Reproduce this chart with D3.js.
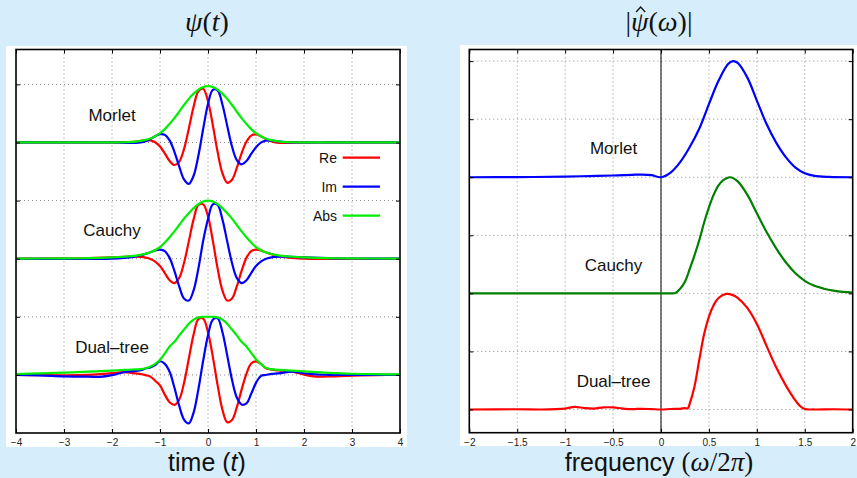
<!DOCTYPE html>
<html>
<head>
<meta charset="utf-8">
<script src="https://cdn.jsdelivr.net/npm/d3@7"></script>
<style>
  html, body { margin: 0; padding: 0; background: #d6eefc; }
  svg { display: block; }
</style>
</head>
<body>
<svg id="chart" width="857" height="478"></svg>
<script>
// ---------------- data: time domain ψ(t) ----------------
const timeT = [-4,-3,-2.5,-2,-1.75,-1.6,-1.5,-1.4,-1.3,-1.2,-1.1,-1,-0.9,-0.8,-0.7,-0.6,-0.5,-0.4,-0.3,-0.2,-0.1,0,
               0.1,0.2,0.3,0.4,0.5,0.6,0.7,0.8,0.9,1,1.1,1.2,1.3,1.4,1.5,1.6,1.75,2,2.5,3,4];

const morletRe  = [0,0,0,0,0.002,0.005,0.014,0.027,0.038,0.036,0.004,-0.071,-0.189,-0.318,-0.388,-0.333,-0.115,0.236,0.615,0.882,0.925,0.710,
                   0.301,-0.162,-0.528,-0.693,-0.641,-0.436,-0.187,0.012,0.118,0.138,0.108,0.063,0.025,0.003,-0.006,-0.007,-0.004,-0.001,0,0,0];
const morletIm  = [0,0,0,0,-0.004,-0.007,-0.007,0.001,0.022,0.060,0.108,0.143,0.131,0.035,-0.160,-0.412,-0.635,-0.712,-0.573,-0.225,0.236,0.662,
                   0.906,0.895,0.654,0.287,-0.070,-0.302,-0.376,-0.320,-0.198,-0.081,-0.004,0.032,0.036,0.027,0.015,0.006,0.002,0,0,0,0];
const morletAbs = [0,0,0,0.001,0.004,0.009,0.016,0.027,0.044,0.070,0.108,0.160,0.230,0.320,0.420,0.530,0.645,0.750,0.840,0.910,0.955,0.970,
                   0.955,0.910,0.840,0.750,0.645,0.530,0.420,0.320,0.230,0.160,0.108,0.070,0.044,0.027,0.016,0.009,0.004,0.001,0,0,0];

const cauchyRe  = [0.001,0.003,0.009,0.022,0.031,0.034,0.035,0.030,0.018,-0.004,-0.049,-0.126,-0.247,-0.370,-0.421,-0.331,-0.075,0.298,0.677,0.925,0.935,0.732,
                   0.310,-0.167,-0.546,-0.721,-0.686,-0.477,-0.210,0.014,0.131,0.155,0.142,0.110,0.083,0.059,0.040,0.026,0.012,-0.001,-0.005,-0.004,-0.001];
const cauchyIm  = [-0.001,-0.004,-0.005,-0.001,0.012,0.026,0.040,0.059,0.083,0.110,0.142,0.155,0.131,0.014,-0.210,-0.477,-0.686,-0.721,-0.546,-0.167,0.310,0.682,
                   0.935,0.925,0.677,0.298,-0.075,-0.331,-0.421,-0.370,-0.247,-0.126,-0.049,-0.004,0.018,0.030,0.035,0.034,0.031,0.022,0.009,0.003,0.001];
const cauchyAbs = [0.002,0.005,0.010,0.022,0.033,0.043,0.053,0.066,0.085,0.110,0.150,0.200,0.280,0.370,0.470,0.580,0.690,0.780,0.870,0.940,0.985,1.000,
                   0.985,0.940,0.870,0.780,0.690,0.580,0.470,0.370,0.280,0.200,0.150,0.110,0.085,0.066,0.053,0.043,0.033,0.022,0.010,0.005,0.002];

const dualT   = [-4,-3.5,-3,-2.5,-2.25,-2,-1.75,-1.5,-1.4,-1.3,-1.2,-1.1,-1,-0.9,-0.8,-0.7,-0.6,-0.5,-0.4,-0.3,-0.2,-0.1,0,
                 0.1,0.2,0.3,0.4,0.5,0.6,0.7,0.8,0.9,1,1.1,1.2,1.3,1.4,1.5,1.75,2,2.25,2.5,3,3.5,4];
const dualRe  = [0,-0.004,-0.006,0,0.012,0.030,0.046,0.025,0.015,-0.005,-0.030,-0.100,-0.180,-0.340,-0.470,-0.515,-0.427,-0.139,0.277,0.695,0.959,0.969,0.732,
                 0.315,-0.176,-0.597,-0.813,-0.776,-0.559,-0.254,0.019,0.195,0.232,0.190,0.120,0.095,0.082,0.074,0.055,0.005,-0.030,-0.028,-0.012,-0.004,0];
const dualIm  = [0,-0.008,-0.025,-0.030,-0.034,-0.005,0.046,0.070,0.080,0.110,0.130,0.170,0.235,0.190,0.053,-0.218,-0.529,-0.768,-0.835,-0.648,-0.245,0.247,0.682,
                 0.949,0.974,0.739,0.336,-0.084,-0.388,-0.510,-0.490,-0.326,-0.137,-0.020,-0.002,0.012,0.022,0.030,0.057,0.028,0.008,0.002,0,0,0];
const dualAbs = [0.015,0.025,0.040,0.055,0.065,0.074,0.085,0.094,0.098,0.115,0.145,0.190,0.260,0.370,0.490,0.570,0.680,0.780,0.880,0.950,0.990,1.000,1.000,
                 1.000,0.990,0.950,0.880,0.780,0.680,0.570,0.490,0.380,0.270,0.190,0.125,0.100,0.092,0.086,0.074,0.060,0.046,0.036,0.020,0.012,0.008];

// ---------------- data: spectra |ψ̂(ω)| ----------------
const fMorlet    = [-2,-1.5,-1,-0.75,-0.5,-0.3,-0.2,-0.1,0,0.1,0.2,0.3,0.4,0.5,0.6,0.7,0.75,0.8,0.9,1,1.1,1.2,1.3,1.4,1.5,1.6,1.75,2];
const morletSpec = [0,0.001,0.005,0.010,0.015,0.021,0.023,0.018,0,0.040,0.130,0.260,0.420,0.630,0.830,0.975,1.000,0.985,0.860,0.660,0.460,0.300,0.175,0.085,0.034,0.012,0.003,0];

const fCauchy    = [-2,-1,0,0.1,0.15,0.2,0.25,0.3,0.35,0.4,0.45,0.5,0.55,0.6,0.65,0.72,0.8,0.9,1,1.1,1.2,1.3,1.4,1.5,1.6,1.7,1.8,1.9,2];
const cauchySpec = [0,0,0,0,0.003,0.040,0.100,0.210,0.330,0.460,0.610,0.740,0.850,0.930,0.975,1.000,0.965,0.850,0.690,0.530,0.390,0.270,0.175,0.108,0.065,0.040,0.023,0.012,0.006];

const fDual      = [-2,-1.5,-1.25,-1,-0.9,-0.8,-0.7,-0.6,-0.5,-0.4,-0.3,-0.2,-0.1,0,0.1,0.2,0.25,0.28,0.3,0.35,0.4,0.45,0.5,0.55,0.6,0.68,0.75,0.8,0.9,1,
                    1.1,1.2,1.3,1.4,1.45,1.5,1.6,1.8,2];
const dualSpec   = [0,0.002,0,0.008,0.022,0.012,0.008,0.018,0.018,0.008,0.003,0.006,0.003,0,0.004,0.006,0.012,0.010,0.050,0.200,0.430,0.650,0.800,0.900,0.960,0.995,0.985,0.962,0.875,0.737,
                    0.550,0.365,0.210,0.080,0.030,0.004,0,0.002,0];

// ---------------- labels & ticks ----------------
const waveletNames = ["Morlet", "Cauchy", "Dual\u2013tree"];
const partNames    = ["Re", "Im", "Abs"];
const timeTicks    = [-4,-3,-2,-1,0,1,2,3,4];
const freqTicks    = [-2,-1.5,-1,-0.5,0,0.5,1,1.5,2];
const timeGridY    = [1,2,3,4,5,6];
const freqGridY    = [0,0.5,1,1.5,2,2.5,3];

// ---------------- layout ----------------
const svg = d3.select("#chart");
const L = {x0: 16, x1: 400, y0: 49.5, y1: 433};
const R = {x0: 469.3, x1: 852.7, y0: 49.5, y1: 432.7};

const xL = d3.scaleLinear().domain([-4, 4]).range([L.x0, L.x1]);
const yL = d3.scaleLinear().domain([0, 6.6]).range([L.y1, L.y0]);
const xR = d3.scaleLinear().domain([-2, 2]).range([R.x0, R.x1]);
const yR = d3.scaleLinear().domain([-0.2, 3.1]).range([R.y1, R.y0]);

const timeOffsets = [5, 3, 1];     // vertical offset of each wavelet trace
const freqOffsets = [2, 1, 0];
const partColors  = ["#ff0000", "#0000ff", "#00ee00"];
const specColors  = ["#0000ff", "#008000", "#ff0000"];

const sans  = "'Liberation Sans', Arial, Helvetica, sans-serif";
const serif = "'Liberation Serif', 'Times New Roman', serif";

// white panel backgrounds
svg.append("rect").attr("x", 6).attr("y", 46).attr("width", 401).attr("height", 401).attr("fill", "#fff");
svg.append("rect").attr("x", 460).attr("y", 45).attr("width", 397).attr("height", 401).attr("fill", "#fff");

function grid(box, xs, ys, xVals, yVals) {
  const g = svg.append("g").attr("stroke", "#8a8a8a").attr("stroke-width", 1).attr("stroke-dasharray", "1,3");
  g.selectAll(".gx").data(xVals).join("line")
    .attr("x1", d => xs(d)).attr("x2", d => xs(d)).attr("y1", box.y0).attr("y2", box.y1);
  g.selectAll(".gy").data(yVals).join("line")
    .attr("y1", d => ys(d)).attr("y2", d => ys(d)).attr("x1", box.x0).attr("x2", box.x1);
}
grid(L, xL, yL, timeTicks.slice(1, -1), timeGridY);
grid(R, xR, yR, freqTicks.slice(1, -1), freqGridY);

// f = 0 axis line
svg.append("line").attr("x1", xR(0)).attr("x2", xR(0)).attr("y1", R.y0).attr("y2", R.y1)
  .attr("stroke", "#000").attr("stroke-width", 1);

// ---------------- time-domain traces ----------------
const timeSets = [
  {t: timeT, parts: [morletRe, morletIm, morletAbs]},
  {t: timeT, parts: [cauchyRe, cauchyIm, cauchyAbs]},
  {t: dualT, parts: [dualRe, dualIm, dualAbs]}
];
const tLine = d3.line().curve(d3.curveCatmullRom.alpha(0.5));
timeSets.forEach((s, i) => {
  s.parts.forEach((vals, k) => {
    const pts = s.t.map((t, j) => [xL(t), yL(timeOffsets[i] + vals[j])]);
    svg.append("path").attr("d", tLine(pts)).attr("fill", "none")
      .attr("stroke", partColors[k]).attr("stroke-width", 2.2).attr("stroke-linejoin", "round");
  });
});

// ---------------- spectra ----------------
const specSets = [
  {f: fMorlet, v: morletSpec},
  {f: fCauchy, v: cauchySpec},
  {f: fDual,   v: dualSpec}
];
const fLine = d3.line().curve(d3.curveCatmullRom.alpha(0.5));
specSets.forEach((s, i) => {
  const pts = s.f.map((f, j) => [xR(f), yR(freqOffsets[i] + s.v[j])]);
  svg.append("path").attr("d", fLine(pts)).attr("fill", "none")
    .attr("stroke", specColors[i]).attr("stroke-width", 2.2).attr("stroke-linejoin", "round");
});

// ---------------- frames & inward ticks ----------------
function frame(box, xs, ys, xVals, yVals) {
  const clean = g => { g.select(".domain").remove(); g.selectAll("line").attr("stroke", "#000").attr("stroke-width", 1); };
  svg.append("g").attr("transform", `translate(0,${box.y1})`)
    .call(d3.axisTop(xs).tickValues(xVals).tickSize(4).tickFormat("")).call(clean);
  svg.append("g").attr("transform", `translate(0,${box.y0})`)
    .call(d3.axisBottom(xs).tickValues(xVals).tickSize(4).tickFormat("")).call(clean);
  svg.append("g").attr("transform", `translate(${box.x0},0)`)
    .call(d3.axisRight(ys).tickValues(yVals).tickSize(4).tickFormat("")).call(clean);
  svg.append("g").attr("transform", `translate(${box.x1},0)`)
    .call(d3.axisLeft(ys).tickValues(yVals).tickSize(4).tickFormat("")).call(clean);
  svg.append("rect").attr("x", box.x0).attr("y", box.y0)
    .attr("width", box.x1 - box.x0).attr("height", box.y1 - box.y0)
    .attr("fill", "none").attr("stroke", "#000").attr("stroke-width", 1.6);
  // tick labels
  const lab = svg.append("g").attr("transform", `translate(0,${box.y1})`)
    .call(d3.axisBottom(xs).tickValues(xVals).tickSize(0).tickPadding(6).tickFormat(d3.format("~g")));
  lab.select(".domain").remove();
  lab.selectAll("text").attr("font-family", sans).attr("font-size", 10).attr("fill", "#222");
}
frame(L, xL, yL, timeTicks, timeGridY);
frame(R, xR, yR, freqTicks, freqGridY);

// ---------------- legend ----------------
const legendY = [157.7, 186.7, 215.7];
partNames.forEach((name, k) => {
  svg.append("line").attr("x1", 342.7).attr("x2", 380).attr("y1", legendY[k]).attr("y2", legendY[k])
    .attr("stroke", partColors[k]).attr("stroke-width", 2.2);
  svg.append("text").attr("x", 337).attr("y", legendY[k] + 5).attr("text-anchor", "end")
    .attr("font-family", sans).attr("font-size", 14).attr("fill", "#111").text(name);
});

// ---------------- trace names ----------------
const leftNameY  = [121, 235.7, 352.5];
const rightNameY = [154, 271, 387];
waveletNames.forEach((n, i) => {
  svg.append("text").attr("x", 112).attr("y", leftNameY[i]).attr("text-anchor", "middle")
    .attr("font-family", sans).attr("font-size", 17).attr("fill", "#111").text(n);
  svg.append("text").attr("x", 613.5).attr("y", rightNameY[i]).attr("text-anchor", "middle")
    .attr("font-family", sans).attr("font-size", 17).attr("fill", "#111").text(n);
});

// ---------------- titles ----------------
const titleSize = 28, titleBase = 31;
const t1 = svg.append("text").attr("x", 207).attr("y", titleBase).attr("text-anchor", "middle")
  .attr("font-family", serif).attr("font-size", titleSize).attr("fill", "#111");
t1.append("tspan").attr("font-style", "italic").text("ψ");
t1.append("tspan").text("(");
t1.append("tspan").attr("font-style", "italic").text("t");
t1.append("tspan").text(")");

const t2 = svg.append("text").attr("x", 659).attr("y", titleBase).attr("text-anchor", "middle")
  .attr("font-family", serif).attr("font-size", titleSize).attr("fill", "#111");
t2.append("tspan").text("|");
t2.append("tspan").attr("font-style", "italic").text("ψ");
t2.append("tspan").text("(");
t2.append("tspan").attr("font-style", "italic").text("ω");
t2.append("tspan").text(")|");

// hat accent over ψ (placed from the rendered glyph extent)
const psiBox = t2.node().getExtentOfChar(1);
const hatCx = psiBox.x + psiBox.width * 0.55;
const hatBottom = titleBase - titleSize * 0.68;
svg.append("path")
  .attr("d", `M${hatCx - 4.5},${hatBottom} L${hatCx},${hatBottom - 5} L${hatCx + 4.5},${hatBottom}`)
  .attr("fill", "none").attr("stroke", "#111").attr("stroke-width", 1.3).attr("stroke-linejoin", "miter");

// ---------------- axis titles ----------------
const xl1 = svg.append("text").attr("x", 207).attr("y", 471).attr("text-anchor", "middle")
  .attr("font-family", sans).attr("font-size", 25).attr("fill", "#111");
xl1.append("tspan").text("time (");
xl1.append("tspan").attr("font-style", "italic").text("t");
xl1.append("tspan").text(")");

const xl2 = svg.append("text").attr("x", 659).attr("y", 471).attr("text-anchor", "middle")
  .attr("font-size", 25).attr("fill", "#111");
xl2.append("tspan").attr("font-family", sans).text("frequency ");
xl2.append("tspan").attr("font-family", serif).attr("font-size", 27).text("(");
xl2.append("tspan").attr("font-family", serif).attr("font-size", 27).attr("font-style", "italic").text("ω");
xl2.append("tspan").attr("font-family", serif).attr("font-size", 27).text("/2");
xl2.append("tspan").attr("font-family", serif).attr("font-size", 27).attr("font-style", "italic").text("π");
xl2.append("tspan").attr("font-family", serif).attr("font-size", 27).text(")");
</script>
</body>
</html>
